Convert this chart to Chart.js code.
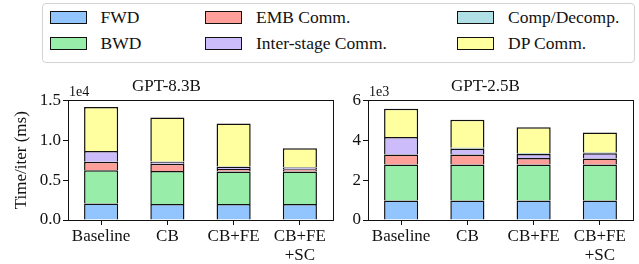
<!DOCTYPE html>
<html><head><meta charset="utf-8">
<script src="https://cdn.jsdelivr.net/npm/chart.js@4.4.1/dist/chart.umd.min.js"></script>
<style>
body{margin:0;width:639px;height:264px;background:#fff;position:relative;overflow:hidden;font-family:"Liberation Serif","Times New Roman","Nimbus Roman","DejaVu Serif",serif;}
#legend{position:absolute;left:42px;top:3px;width:591px;height:58px;border:1px solid #d3d3d3;border-radius:4px;box-sizing:content-box;}
.item{position:absolute;height:20px;display:flex;align-items:center;font-size:17.5px;color:#111;white-space:nowrap;}
.sw{width:35px;height:11px;border:1px solid #111;margin-right:14px;flex:none;}
.wrap{position:absolute;top:0;}
</style>
</head><body>
<div id="legend"></div>
<div class="wrap" style="left:0px"><canvas id="c1" width="338" height="264"></canvas></div>
<div class="wrap" style="left:338px"><canvas id="c2" width="301" height="264"></canvas></div>
<script>
// ---- data ----
const categories = ['Baseline', 'CB', 'CB+FE', ['CB+FE', '+SC']];
const seriesNames = ['FWD', 'BWD', 'EMB Comm.', 'Inter-stage Comm.', 'Comp/Decomp.', 'DP Comm.'];
const chartTitles = ['GPT-8.3B', 'GPT-2.5B'];

// GPT-8.3B (ms)
const g83_fwd   = [2080, 2000, 2000, 2000];
const g83_bwd   = [4170, 4150, 4080, 4080];
const g83_emb   = [1040, 900, 310, 300];
const g83_inter = [1370, 240, 260, 200];
const g83_comp  = [0, 60, 60, 60];
const g83_dp    = [5500, 5520, 5380, 2350];

// GPT-2.5B (ms)
const g25_fwd   = [980, 980, 980, 980];
const g25_bwd   = [1800, 1800, 1800, 1800];
const g25_emb   = [500, 510, 330, 310];
const g25_inter = [890, 290, 200, 260];
const g25_comp  = [0, 40, 40, 40];
const g25_dp    = [1410, 1410, 1305, 1000];

const yTicks83 = [0, 5000, 10000, 15000];
const yTicks25 = [0, 2000, 4000, 6000];

// ---- styling ----
const F = '"Liberation Serif", "Times New Roman", "Nimbus Roman", "DejaVu Serif", serif';
const colors = ['#92c5fd', '#98eea8', '#ff9f9a', '#cdbcfc', '#b0e0e6', '#ffff9f'];
const INK = '#111';

// legend (HTML, real text)
const legendPos = [[6.5, 3.8], [6.5, 29.5], [162, 3.8], [162, 29.5], [414, 3.8], [414, 29.5]];
const legendOrder = [0, 1, 2, 3, 4, 5];
const lg = document.getElementById('legend');
legendOrder.forEach((si, k) => {
  const d = document.createElement('div');
  d.className = 'item';
  d.style.left = legendPos[k][0] + 'px';
  d.style.top = legendPos[k][1] + 'px';
  const sw = document.createElement('div');
  sw.className = 'sw';
  sw.style.background = colors[si];
  const t = document.createElement('span');
  t.textContent = seriesNames[si];
  d.appendChild(sw); d.appendChild(t);
  lg.appendChild(d);
});

const boxPlugin = {
  id: 'box',
  afterDraw(chart) {
    const a = chart.chartArea, ctx = chart.ctx;
    ctx.save();
    ctx.strokeStyle = INK; ctx.lineWidth = 1;
    ctx.strokeRect(Math.round(a.left) + 0.5, Math.round(a.top) + 0.5, Math.round(a.right - a.left), Math.round(a.bottom - a.top));
    const txt = chart.options.plugins.offsetLabel && chart.options.plugins.offsetLabel.text;
    if (txt) {
      ctx.fillStyle = INK;
      ctx.font = "14px " + F;
      ctx.textAlign = 'left';
      ctx.textBaseline = 'alphabetic';
      ctx.fillText(txt, a.left + 1, a.top - 4);
    }
    ctx.restore();
  }
};

function makeChart(id, title, series, yMax, ticks, fmt, offText, yTitle, yWidth, padRight) {
  const ctx = document.getElementById(id).getContext('2d');
  return new Chart(ctx, {
    type: 'bar',
    data: {
      labels: categories,
      datasets: seriesNames.map((n, i) => ({
        label: n, data: series[i], backgroundColor: colors[i],
        borderColor: INK, borderWidth: 1.5,
        categoryPercentage: 0.515, barPercentage: 1
      }))
    },
    options: {
      responsive: false, animation: false, devicePixelRatio: 1,
      layout: { padding: { left: 0, right: padRight, top: 0, bottom: 0 } },
      plugins: {
        legend: { display: false }, tooltip: { enabled: false },
        title: { display: true, text: title, color: INK,
          font: { family: F, size: 17, weight: 'normal', lineHeight: 1.2 },
          padding: { top: 76, bottom: 4 } },
        offsetLabel: { text: offText }
      },
      scales: {
        x: {
          stacked: true,
          grid: { display: true, drawOnChartArea: false, drawTicks: true, tickLength: 5, color: INK, offset: false },
          border: { display: true, color: INK, width: 1 },
          ticks: { color: INK, font: { family: F, size: 17, lineHeight: 1.1 }, padding: 2, maxRotation: 0, autoSkip: false },
          afterFit: s => { s.height = 44; }
        },
        y: {
          stacked: true, min: 0, max: yMax,
          afterBuildTicks: s => { s.ticks = ticks.map(v => ({ value: v })); },
          ticks: { callback: fmt, color: INK, font: { family: F, size: 17 }, padding: 2 },
          grid: { drawOnChartArea: false, drawTicks: true, tickLength: 5, color: INK },
          border: { display: true, color: INK, width: 1 },
          title: { display: !!yTitle, text: yTitle || '', color: INK,
            font: { family: F, size: 17, lineHeight: 1.2 }, padding: { top: 11, bottom: 0 } },
          afterFit: s => { s.width = yWidth; }
        }
      }
    },
    plugins: [boxPlugin]
  });
}

makeChart('c1', chartTitles[0],
  [g83_fwd, g83_bwd, g83_emb, g83_inter, g83_comp, g83_dp],
  15000, yTicks83, v => (v / 1e4).toFixed(1), '1e4', 'Time/iter (ms)', 68, 5);
makeChart('c2', chartTitles[1],
  [g25_fwd, g25_bwd, g25_emb, g25_inter, g25_comp, g25_dp],
  6000, yTicks25, v => (v / 1e3).toFixed(0), '1e3', '', 30, 6);
</script>
</body></html>
